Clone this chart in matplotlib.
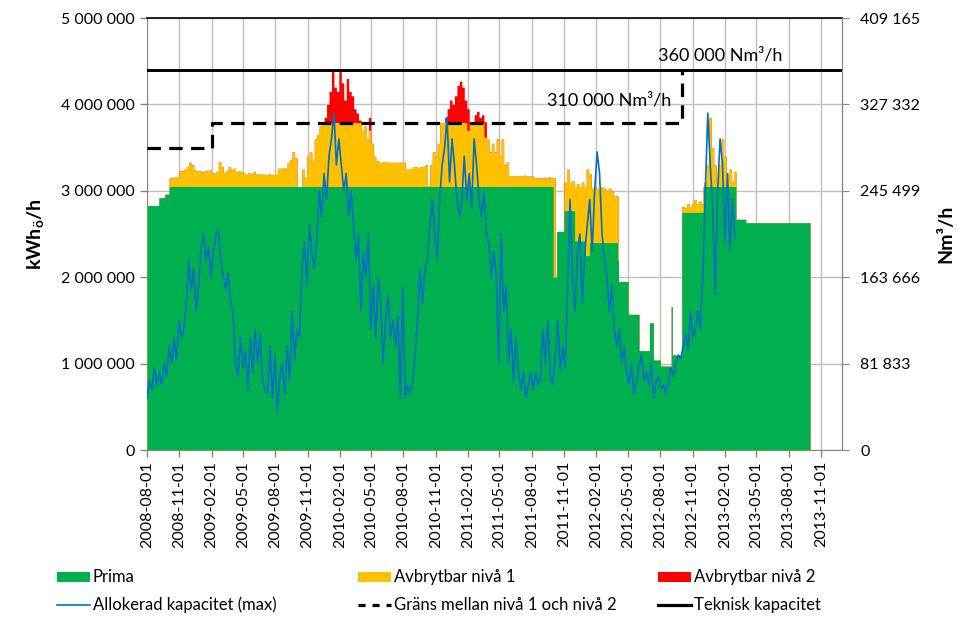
import numpy as np
import pandas as pd
import matplotlib
matplotlib.use('Agg')
import matplotlib.pyplot as plt
import matplotlib.dates as mdates
from matplotlib.patches import Rectangle
from matplotlib.lines import Line2D
from matplotlib.ticker import FixedLocator, NullLocator

plt.rcParams['font.family'] = ['Lato', 'DejaVu Sans']

# ---------------- data (values in million kWh/h) ----------------
START = '2008-08-01'
X_END = '2013-12-31'

# Prima: step function (date, level); last level 0 = end of data
prima_dates = ['2008-08-01', '2008-09-04', '2008-09-21', '2008-10-03', '2011-10-01',
               '2011-10-11', '2011-11-01', '2011-12-01', '2012-01-01', '2012-01-12',
               '2012-04-01', '2012-04-04', '2012-05-01', '2012-06-01', '2012-07-01',
               '2012-07-12', '2012-08-01', '2012-09-01', '2012-09-04', '2012-10-01',
               '2012-12-01', '2013-03-04', '2013-04-01', '2013-10-01']
prima_vals = [2.83, 2.92, 2.96, 3.05, 2.00,
              2.53, 2.77, 2.42, 2.25, 2.40,
              2.20, 1.95, 1.57, 1.15, 1.47,
              1.04, 0.97, 1.66, 1.10, 2.75,
              3.05, 2.67, 2.63, 0.0]

# Allokerad kapacitet (max): weekly values from START
blue_vals = [
    0.60, 0.80, 0.70, 0.95, 0.75, 0.90, 0.75, 1.00, 0.85, 1.20,
    1.00, 1.30, 1.05, 1.50, 1.30, 1.40, 1.70, 2.20, 1.85, 2.10,
    1.60, 1.90, 2.35, 2.50, 2.20, 2.35, 2.00, 2.30, 2.50, 2.55,
    2.20, 2.00, 1.85, 2.05, 1.70, 1.60, 1.00, 0.85, 1.30, 0.95,
    1.15, 0.70, 1.30, 0.90, 1.40, 1.00, 1.35, 0.80,
    0.70, 0.65, 1.20, 0.60, 1.10, 0.45, 0.85, 1.00, 0.65, 1.20,
    0.80, 1.60, 1.05, 1.40, 1.30, 2.10, 2.40, 1.90, 2.60, 2.30,
    2.10, 2.40, 3.00, 2.70, 3.20, 2.90, 3.40, 3.60, 3.90, 3.30,
    3.60, 3.30, 3.00, 3.20, 2.70, 3.00, 2.60, 2.20, 2.50, 1.60,
    2.30, 2.00, 2.50, 1.40, 1.90, 1.30, 2.00, 1.70,
    1.00, 1.50, 1.80, 1.30, 1.50, 1.20, 1.55, 0.60, 1.90, 0.60,
    0.75, 0.65, 0.80, 1.10, 1.50, 2.10, 1.70, 2.10, 2.20, 2.60,
    2.90, 2.50, 2.20, 2.90, 3.30, 3.50, 3.85, 3.10, 3.60, 3.30,
    2.90, 2.70, 2.90, 3.40, 2.90, 3.20, 2.80, 3.60, 3.30, 2.90,
    2.70, 3.00, 2.50, 2.40, 2.00, 2.30,
    2.00, 1.00, 2.50, 1.60, 1.90, 1.00, 1.40, 0.80, 1.30, 0.90,
    0.70, 0.90, 0.60, 0.75, 0.90, 0.70, 0.90, 0.75, 0.85, 1.40,
    1.00, 1.50, 0.85, 0.75, 1.10, 1.50, 0.90, 1.20, 0.95, 1.90,
    2.90, 2.00, 1.60, 2.30, 2.50, 1.70, 2.30, 2.60, 2.90, 2.30,
    3.00, 3.45, 3.20, 2.50, 2.20, 2.00, 1.60, 1.90,
    1.40, 1.20, 1.40, 1.00, 1.20, 0.90, 0.75, 1.00, 0.65, 0.80,
    0.95, 1.10, 0.80, 0.90, 0.75, 1.00, 0.60, 0.80, 0.85, 0.70,
    0.75, 0.65, 0.80, 0.95, 0.85, 1.00, 1.10, 1.05, 1.20, 1.35,
    1.15, 1.60, 1.30, 1.40, 1.60, 1.40, 2.00, 3.00, 3.90, 3.30,
    2.80, 1.80, 3.00, 3.60, 3.30, 2.40, 3.20, 2.30, 2.90, 2.45]

# Avbrytbar nivå 1: total level (prima + nivå 1), weekly segments
avb1_a_start = '2008-10-03'
avb1_a = [3.15, 3.15, 3.16, 3.15, 3.23, 3.23, 3.25, 3.28, 3.33, 3.30,
          3.24, 3.23, 3.23, 3.22, 3.23, 3.23, 3.24, 3.21, 3.21, 3.22,
          3.34, 3.28, 3.21, 3.23, 3.28, 3.24, 3.26, 3.22, 3.23, 3.22,
          3.20, 3.20, 3.21, 3.20, 3.22, 3.20, 3.20, 3.20, 3.19, 3.19,
          3.20, 3.19, 3.19, 3.19, 3.26, 3.26, 3.27, 3.26, 3.33, 3.36,
          3.45, 3.38, 3.05, 3.05, 3.25, 3.15, 3.40, 3.45, 3.35, 3.60,
          3.65, 3.75, 3.79, 3.79, 3.79, 3.79, 3.79, 3.79, 3.79, 3.79,
          3.79, 3.79, 3.79, 3.79, 3.79, 3.79, 3.79, 3.79, 3.70, 3.75,
          3.60, 3.70, 3.55, 3.40, 3.35, 3.33, 3.33, 3.34, 3.33, 3.33,
          3.33, 3.32, 3.33, 3.33, 3.33, 3.33, 3.25, 3.25, 3.26, 3.28,
          3.28, 3.27, 3.28, 3.28, 3.30, 3.06, 3.30, 3.45, 3.40, 3.55,
          3.79, 3.79, 3.79, 3.79, 3.79, 3.79, 3.79, 3.79, 3.79, 3.79,
          3.79, 3.70, 3.79, 3.79, 3.79, 3.79, 3.79, 3.79, 3.62, 3.60,
          3.45, 3.55, 3.45, 3.60, 3.40, 3.60, 3.30, 3.33, 3.17, 3.17,
          3.17, 3.17, 3.17, 3.17, 3.18, 3.17, 3.17, 3.17, 3.15, 3.15,
          3.15, 3.15, 3.15, 3.15, 3.16, 3.15, 3.15]
avb1_b_start = '2011-11-01'
avb1_b = [3.10, 3.25, 3.10, 3.12, 3.05, 3.08, 3.05, 3.10, 3.05, 3.25,
          3.20, 3.03, 3.05, 3.03, 3.00, 3.05, 3.03, 3.00, 3.03, 3.00,
          2.94, 2.94]
avb1_c_start = '2012-10-01'
avb1_c = [2.82, 2.80, 2.85, 2.82, 2.85, 2.90, 2.85, 2.88, 2.85,
          3.10, 3.30, 3.85, 3.50, 3.30, 3.10, 3.30, 3.60, 3.40, 3.20,
          3.25, 3.12, 3.22]

# Avbrytbar nivå 2: total level (prima + nivå 1 + nivå 2), weekly segments
avb2_a_start = '2009-12-18'
avb2_a = [3.85, 4.00, 4.15, 4.38, 4.20, 4.15, 4.38, 4.25, 4.05, 4.30,
          4.15, 4.10, 3.95, 3.90, 3.82, 0.0, 0.0, 0.0, 3.85]
avb2_b_start = '2010-11-19'
avb2_b = [3.79, 3.85, 3.95, 4.05, 4.00, 4.10, 4.22, 4.27, 4.20, 4.05,
          3.95, 3.80, 3.79, 3.88, 3.92, 3.85, 3.88, 3.80]

# Gräns mellan nivå 1 och nivå 2
grans_dates = ['2008-08-01', '2009-02-01', '2009-02-01', '2012-10-01', '2012-10-01']
grans_vals = [3.50, 3.50, 3.788, 3.788, 4.40]
# Teknisk kapacitet
teknisk_val = 4.40

xtick_dates = ['2008-08-01', '2008-11-01', '2009-02-01', '2009-05-01', '2009-08-01',
               '2009-11-01', '2010-02-01', '2010-05-01', '2010-08-01', '2010-11-01',
               '2011-02-01', '2011-05-01', '2011-08-01', '2011-11-01', '2012-02-01',
               '2012-05-01', '2012-08-01', '2012-11-01', '2013-02-01', '2013-05-01',
               '2013-08-01', '2013-11-01']
yl_ticks = [0, 1, 2, 3, 4, 5]
yl_labels = ['0', '1 000 000', '2 000 000', '3 000 000', '4 000 000', '5 000 000']
yr_ticks = [0, 81833, 163666, 245499, 327332, 409165]
yr_labels = ['0', '81 833', '163 666', '245 499', '327 332', '409 165']

legend_labels = ['Prima', 'Avbrytbar nivå 1', 'Avbrytbar nivå 2',
                 'Allokerad kapacitet (max)', 'Gräns mellan nivå 1 och nivå 2',
                 'Teknisk kapacitet']
ann_texts = ['360 000 Nm³/h', '310 000 Nm³/h']

# ---------------- colours ----------------
C_GREEN = '#00B050'
C_YELLOW = '#FFC000'
C_RED = '#FF0000'
C_BLUE = '#0070C0'
C_GRID = '#BFBFBF'
C_AX = '#868686'

# ---------------- daily step evaluation ----------------
t0 = pd.Timestamp(START)
days = pd.date_range(START, prima_dates[-1], freq='D')
n = len(days)
pd_idx = np.array([(pd.Timestamp(d) - t0).days for d in prima_dates])
di = np.arange(n)
green = np.array(prima_vals)[np.searchsorted(pd_idx, di, side='right') - 1]


def seg_daily(start, vals):
    arr = np.full(n, np.nan)
    i0 = (pd.Timestamp(start) - t0).days
    for k, v in enumerate(vals):
        a, b = i0 + 7 * k, min(i0 + 7 * k + 7, n - 1)
        if a < n - 1 and v > 0:
            arr[a:b] = v
    return arr


yel = green.copy()
for s, v in [(avb1_a_start, avb1_a), (avb1_b_start, avb1_b), (avb1_c_start, avb1_c)]:
    seg = seg_daily(s, v)
    m = ~np.isnan(seg) & (seg > yel) & (green > 0)
    yel[m] = seg[m]
red = yel.copy()
for s, v in [(avb2_a_start, avb2_a), (avb2_b_start, avb2_b)]:
    seg = seg_daily(s, v)
    m = ~np.isnan(seg) & (seg > red) & (green > 0)
    red[m] = seg[m]

xd = mdates.date2num(days.to_pydatetime())
blue_x = mdates.date2num([t0 + pd.Timedelta(days=7 * k) for k in range(len(blue_vals))])

# ---------------- figure ----------------
W, H = 977, 638
fig = plt.figure(figsize=(W / 100, H / 100), dpi=100)
L, R, T, B = 147, 842, 18, 450
ax = fig.add_axes([L / W, 1 - B / H, (R - L) / W, (B - T) / H])

ax.fill_between(xd, 0, red, step='post', color=C_RED, lw=0, zorder=2)
ax.fill_between(xd, 0, yel, step='post', color=C_YELLOW, lw=0, zorder=3)
ax.fill_between(xd, 0, green, step='post', color=C_GREEN, lw=0, zorder=4)
ax.plot(blue_x, blue_vals, color=C_BLUE, lw=1.2, zorder=5)

gx = mdates.date2num([pd.Timestamp(d) for d in grans_dates])
ax.plot(gx, grans_vals, color='black', lw=2.3, dashes=(4.2, 2.6), zorder=6)
ax.axhline(teknisk_val, color='black', lw=2.1, zorder=7)

xmin = mdates.date2num(pd.Timestamp(START))
xmax = mdates.date2num(pd.Timestamp(X_END))
ax.set_xlim(xmin, xmax)
ax.set_ylim(0, 5)

xt = mdates.date2num([pd.Timestamp(d) for d in xtick_dates])
ax.xaxis.set_major_locator(FixedLocator(xt))
ax.set_xticklabels(xtick_dates, rotation=90, fontsize=11.5)
ax.yaxis.set_major_locator(FixedLocator(yl_ticks))
ax.set_yticklabels(yl_labels, fontsize=11.5)
ax.tick_params(axis='both', direction='out', length=5, color=C_AX, width=1)
ax.tick_params(axis='x', pad=3)
ax.tick_params(axis='y', pad=4)
ax.grid(True, color=C_GRID, lw=1, zorder=0)
ax.set_axisbelow(True)
for s in ['left', 'bottom', 'right']:
    ax.spines[s].set_color(C_AX)
ax.spines['top'].set_color('black')
ax.spines['top'].set_linewidth(1.2)

ax2 = ax.twinx()
ax2.set_ylim(0, yr_ticks[-1])
ax2.yaxis.set_major_locator(FixedLocator(yr_ticks))
ax2.set_yticklabels(yr_labels, fontsize=11.5)
ax2.tick_params(axis='y', direction='out', length=5, color=C_AX, pad=8)
for s in ax2.spines.values():
    s.set_visible(False)
ax2.spines['right'].set_visible(True)
ax2.spines['right'].set_color(C_AX)

ax.set_ylabel('kWh$_{\\mathregular{ö}}$/h', fontsize=14, fontweight='bold', labelpad=10)
ax2.set_ylabel('Nm³/h', fontsize=14, fontweight='bold', labelpad=12)

ax.text(mdates.date2num(pd.Timestamp('2012-07-25')), 4.57, ann_texts[0], fontsize=13,
        va='center', ha='left', zorder=8)
ax.text(mdates.date2num(pd.Timestamp('2011-09-12')), 4.04, ann_texts[1], fontsize=13,
        va='center', ha='left', zorder=8)

# ---------------- legend (manual, figure pixels) ----------------
def fx(px):
    return px / W


def fy(py):
    return 1 - py / H


cols = [57, 358, 658]
rows = [577, 605]
handles = [('patch', C_GREEN), ('patch', C_YELLOW), ('patch', C_RED),
           ('line', C_BLUE), ('dash', 'black'), ('solid', 'black')]
for i, (lab, (kind, col)) in enumerate(zip(legend_labels, handles)):
    cx = cols[i % 3]
    cy = rows[i // 3]
    if kind == 'patch':
        fig.add_artist(Rectangle((fx(cx), fy(cy + 5)), fx(33), 10 / H,
                                 transform=fig.transFigure, color=col, lw=0))
    elif kind == 'line':
        fig.add_artist(Line2D([fx(cx), fx(cx + 33)], [fy(cy), fy(cy)],
                              transform=fig.transFigure, color=col, lw=1.2))
    elif kind == 'dash':
        fig.add_artist(Line2D([fx(cx), fx(cx + 33)], [fy(cy), fy(cy)],
                              transform=fig.transFigure, color=col, lw=2.3,
                              dashes=(2.2, 2.2)))
    else:
        fig.add_artist(Line2D([fx(cx), fx(cx + 33)], [fy(cy), fy(cy)],
                              transform=fig.transFigure, color=col, lw=2.3))
    fig.text(fx(cx + 36), fy(cy), lab, fontsize=12, va='center', ha='left')

fig.savefig('out.png', dpi=100)
